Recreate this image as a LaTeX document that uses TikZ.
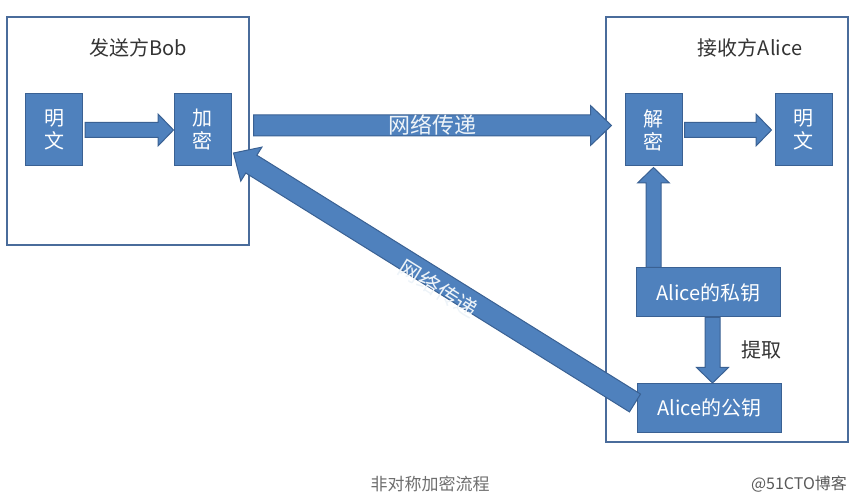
\documentclass[tikz,border=0pt]{standalone}
\usepackage{fontspec}
\setmainfont{Noto Sans CJK SC}
\usetikzlibrary{calc, positioning}
\definecolor{boxfill}{HTML}{4F81BD}
\definecolor{boxedge}{HTML}{3A6193}
\definecolor{framecol}{HTML}{4A6C9B}
\definecolor{titletext}{HTML}{333333}
\definecolor{captiontext}{HTML}{6E6E6E}
\tikzstyle{frame} = [rectangle, draw=framecol, line width=1.5pt, inner sep=0pt]
\tikzstyle{title} = [font=\fontsize{20}{24}\selectfont, text=titletext]
\tikzstyle{block} = [rectangle, minimum width=57pt, minimum height=72pt, inner sep=0pt, align=center, fill=boxfill, draw=boxedge, line width=1pt, text=white, font=\fontsize{20}{23}\selectfont]
\tikzstyle{keybox} = [block, minimum width=144pt, minimum height=49pt]
\tikzstyle{netlabel} = [font=\fontsize{22}{26}\selectfont, text=white!90!boxfill]
\tikzstyle{caption} = [font=\fontsize{17}{20}\selectfont, text=captiontext]
\tikzset{
  fatarrow/.style n args={3}{fill=boxfill, draw=boxedge, line width=1pt, line join=miter,
    to path={let \p1=(\tikztostart), \p2=(\tikztotarget),
      \n1={atan2(\y2-\y1,\x2-\x1)}, \n2={veclen(\x2-\x1,\y2-\y1)} in
      ($(\p1)+({\n1+90}:#1)$) -- ++({\n1}:{\n2-#3}) -- ++({\n1+90}:{#2-#1}) -- (\p2)
      -- ($(\p2)+({\n1}:-#3)+({\n1-90}:#2)$) -- ++({\n1+90}:{#2-#1})
      -- ($(\p1)+({\n1-90}:#1)$) -- cycle}},
  blockarrow/.style={fatarrow={7.5pt}{16pt}{15.5pt}},
  widearrow/.style={fatarrow={10.5pt}{20pt}{21pt}}
}

\begin{document}
\begin{tikzpicture}[x=1pt, y=-1pt, node distance=150pt]
\useasboundingbox (0,0) rectangle (860,502);
% sender and receiver frames
\node (bobbox) [frame, minimum width=242pt, minimum height=228pt] at (128,131) {};
\node (alicebox) [frame, minimum width=242pt, minimum height=425pt] at (727,229.5) {};
\node (bobtitle) [title] at (138,48) {发送方Bob};
\node (alicetitle) [title] at (750,48) {接收方Alice};

\node (plain1) [block] at (54,130) {明\\文};
\node (enc) [block, right of=plain1, xshift=-1.5pt] {加\\密};
\node (dec) [block] at (653.5,130) {解\\密};
\node (plain2) [block, right of=dec] {明\\文};
\node (priv) [keybox] at (708.5,292.5) {Alice的私钥};
\node (pub) [keybox] at (709.5,408) {Alice的公钥};
\node (extract) [title] at (761,350) {提取};

\draw [blockarrow] ([xshift=2pt]plain1.east) to (enc.west);
\draw [widearrow] ([shift={(22,-4.5)}]enc.east) to ([shift={(-13,-4.5)}]dec.west);
\draw [blockarrow] ([xshift=2pt]dec.east) to ([xshift=-3pt]plain2.west);
\draw [blockarrow] (dec.south |- priv.north) to ([yshift=-1pt]dec.south);
\draw [blockarrow] ([xshift=4pt]priv.south) to ([xshift=3pt]pub.north);
\draw [widearrow] ([shift={(-2,-5)}]pub.west) to ([shift={(2,23)}]enc.east);

\path ([shift={(22,-4.5)}]enc.east) -- node [netlabel] {网络传递} ([shift={(-13,-4.5)}]dec.west);
\path ([shift={(-2,-5)}]pub.west) -- node [netlabel, sloped, pos=0.48, yshift=-7pt] {网络传递} ([shift={(2,23)}]enc.east);

\node (caption) [caption] at (430,484) {非对称加密流程};
\node (mark) [caption, font=\fontsize{16}{19}\selectfont, text=black!65] at (799,484) {@51CTO博客};
\end{tikzpicture}
\end{document}
